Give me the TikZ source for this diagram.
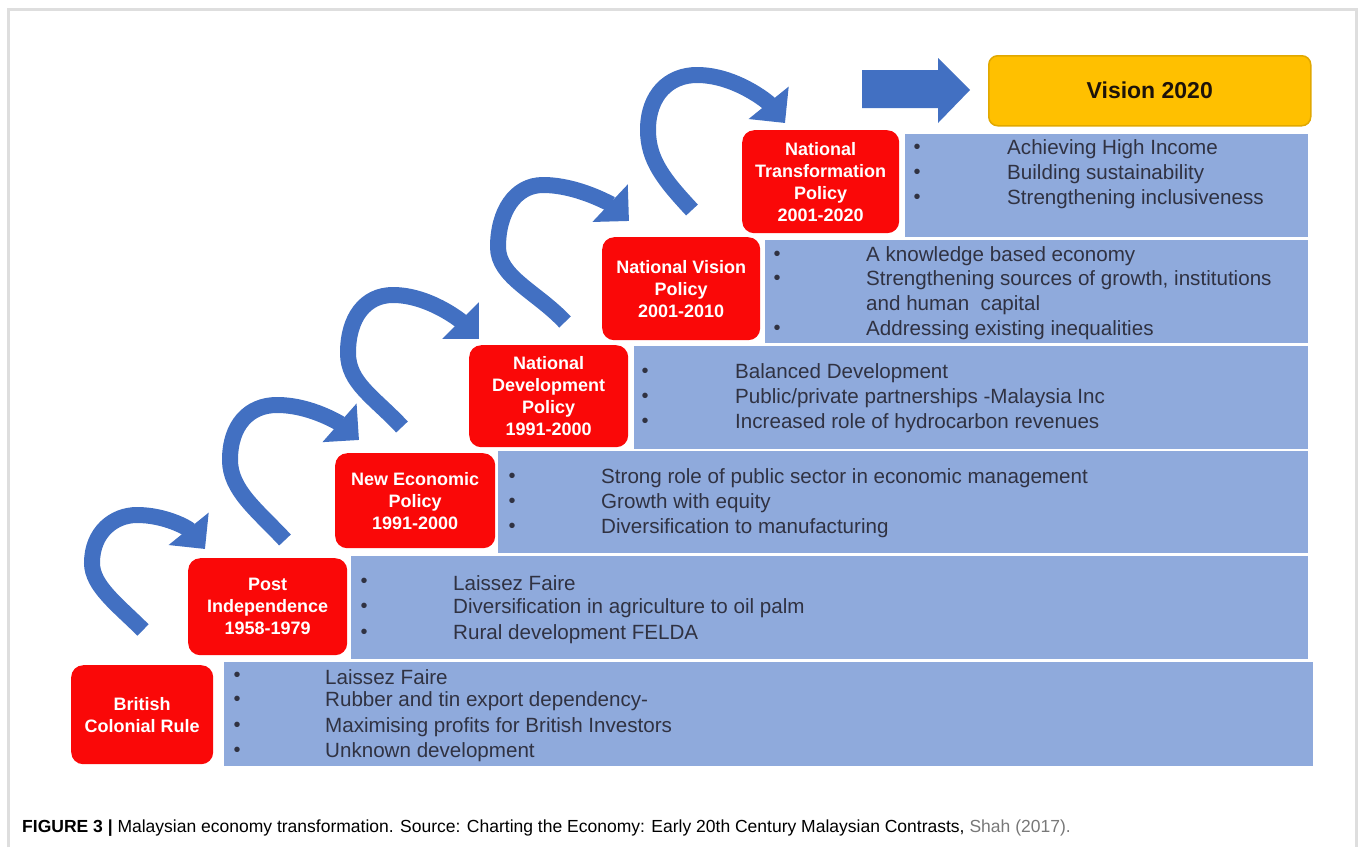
\documentclass[tikz,border=0pt]{standalone}
\usepackage{fontspec}
\setmainfont{Liberation Sans}
\usetikzlibrary{arrows.meta}
\definecolor{bluefill}{RGB}{143,170,220}
\definecolor{redfill}{RGB}{250,8,8}
\definecolor{arcblue}{RGB}{66,112,194}
\definecolor{visfill}{RGB}{255,192,0}
\definecolor{visdraw}{RGB}{225,168,0}
\definecolor{bltext}{RGB}{48,50,66}
\definecolor{framegray}{RGB}{222,222,222}
\definecolor{capgray}{RGB}{120,120,120}
\begin{document}
\begin{tikzpicture}[x=1pt,y=-1pt,
  bluebox/.style={fill=bluefill, draw=none, inner sep=0, anchor=north west},
  redbox/.style={fill=redfill, draw=none, rounded corners=12pt, inner sep=0, anchor=north west,
     text=white, align=center, font=\bfseries\fontsize{18}{22}\selectfont},
  bul/.style={anchor=center, inner sep=0, text=bltext, font=\fontsize{20}{20}\selectfont},
  itm/.style={anchor=west, inner sep=0, text=bltext, font=\fontsize{20.6}{20.6}\selectfont},
  arc/.style={draw=arcblue, line width=16pt, -{Triangle[width=50pt,length=26pt]}}
]
\useasboundingbox (0,0) rectangle (1362,847);
\draw[framegray, line width=3pt] (8,847) -- (8,9) -- (1356,9) -- (1356,847);

% blue boxes
\node[bluebox, minimum width=1089pt, minimum height=104pt] (b1) at (224,662) {};
\node[bluebox, minimum width=957pt, minimum height=103pt] (b2) at (351,556) {};
\node[bluebox, minimum width=810pt, minimum height=102pt] (b3) at (498,451) {};
\node[bluebox, minimum width=674pt, minimum height=103pt] (b4) at (634,346) {};
\node[bluebox, minimum width=543pt, minimum height=103pt] (b5) at (765,240) {};
\node[bluebox, minimum width=403pt, minimum height=103pt] (b6) at (905,134) {};

% red boxes
\node[redbox, minimum width=142pt, minimum height=99pt] (r1) at (71,665) {British\\Colonial Rule};
\node[redbox, minimum width=159pt, minimum height=97pt] (r2) at (188,558) {Post\\Independence\\1958-1979};
\node[redbox, minimum width=160pt, minimum height=95pt] (r3) at (335,453) {New Economic\\Policy\\1991-2000};
\node[redbox, minimum width=159pt, minimum height=102pt] (r4) at (469,345) {National\\Development\\Policy\\1991-2000};
\node[redbox, minimum width=158pt, minimum height=103pt] (r5) at (602,237) {National Vision\\Policy\\2001-2010};
\node[redbox, minimum width=157pt, minimum height=103pt] (r6) at (742,130) {National\\Transformation\\Policy\\2001-2020};

% vision box and block arrow
\node[fill=visfill, draw=visdraw, line width=1.5pt, rounded corners=9pt, anchor=north west,
      minimum width=322pt, minimum height=70pt, text=black!85!brown,
      font=\bfseries\fontsize{23}{23}\selectfont] (v) at (988,55) {Vision 2020};
\fill[arcblue] (862,70) -- (938,70) -- (938,58) -- (970,90) -- (938,123) -- (938,108) -- (862,108) -- cycle;

% bullet texts
\foreach \yy/\tt [count=\i] in {677/{Laissez Faire}, 701/{Rubber and tin export dependency-}, 727/{Maximising profits for British Investors}, 752/{Unknown development}}{
  \node[bul] (b1d\i) at (237,\yy) {•};
  \node[itm] (b1t\i) at (325,\yy) {\tt};
}
\foreach \yy/\tt [count=\i] in {583/{Laissez Faire}, 608/{Diversification in agriculture to oil palm}, 634/{Rural development FELDA}}{
  \node[bul] (b2d\i) at (364,\yy) {•};
  \node[itm] (b2t\i) at (453,\yy) {\tt};
}
\foreach \yy/\tt [count=\i] in {478/{Strong role of public sector in economic management}, 503/{Growth with equity}, 528/{Diversification to manufacturing}}{
  \node[bul] (b3d\i) at (512,\yy) {•};
  \node[itm] (b3t\i) at (601,\yy) {\tt};
}
\node[bul] (b4d1) at (645,373) {•};
\node[itm] (b4t1) at (735,373) {Balanced Development};
\node[bul] (b4d2) at (645,398) {•};
\node[itm] (b4t2) at (735,398) {Public/private partnerships -Malaysia Inc};
\node[bul] (b4d3) at (645,423) {•};
\node[itm] (b4t3) at (735,423) {Increased role of hydrocarbon revenues};
\node[bul] (b5d1) at (777,256) {•};
\node[itm] (b5t1) at (866,256) {A knowledge based economy};
\node[bul] (b5d2) at (777,280) {•};
\node[itm] (b5t2) at (866,280) {Strengthening sources of growth, institutions};
\node[itm] (b5t3) at (866,305) {and human\ \ capital};
\node[bul] (b5d4) at (777,330) {•};
\node[itm] (b5t4) at (866,330) {Addressing existing inequalities};
\foreach \yy/\tt [count=\i] in {149/{Achieving High Income}, 174/{Building sustainability}, 199/{Strengthening inclusiveness}}{
  \node[bul] (b6d\i) at (917,\yy) {•};
  \node[itm] (b6t\i) at (1007,\yy) {\tt};
}

% curved arrows
\coordinate (t1) at (143,630); \coordinate (h1) at (205,549);
\coordinate (t2) at (285,540); \coordinate (h2) at (359,440);
\coordinate (t3) at (402,427); \coordinate (h3) at (479,339);
\coordinate (t4) at (565,322); \coordinate (h4) at (629,221);
\coordinate (t5) at (692,210); \coordinate (h5) at (785,123);
\draw[arc] (t1) .. controls (118,605) and (92,586) .. (92,563) .. controls (92,532) and (114,515) .. (137,515) .. controls (165,515) and (188,528) .. (h1);
\draw[arc] (t2) .. controls (257,510) and (230,490) .. (230,460) .. controls (230,425) and (249,405) .. (277,405) .. controls (312,405) and (342,425) .. (h2);
\draw[arc] (t3) .. controls (374,397) and (348,383) .. (348,353) .. controls (348,318) and (365,295) .. (393,295) .. controls (428,295) and (460,320) .. (h3);
\draw[arc] (t4) .. controls (537,292) and (498,277) .. (498,247) .. controls (498,212) and (515,185) .. (543,185) .. controls (578,185) and (612,205) .. (h4);
\draw[arc] (t5) .. controls (664,180) and (648,160) .. (648,130) .. controls (648,95) and (669,75) .. (697,75) .. controls (735,75) and (768,102) .. (h5);

% caption
\node[anchor=west, inner sep=0, font=\fontsize{17.5}{17.5}\selectfont] (cap) at (22,828)
  {\textbf{FIGURE 3 |} Malaysian economy transformation. Source: Charting the Economy: Early 20th Century Malaysian Contrasts, \textcolor{capgray}{Shah (2017).}};
\end{tikzpicture}
\end{document}
